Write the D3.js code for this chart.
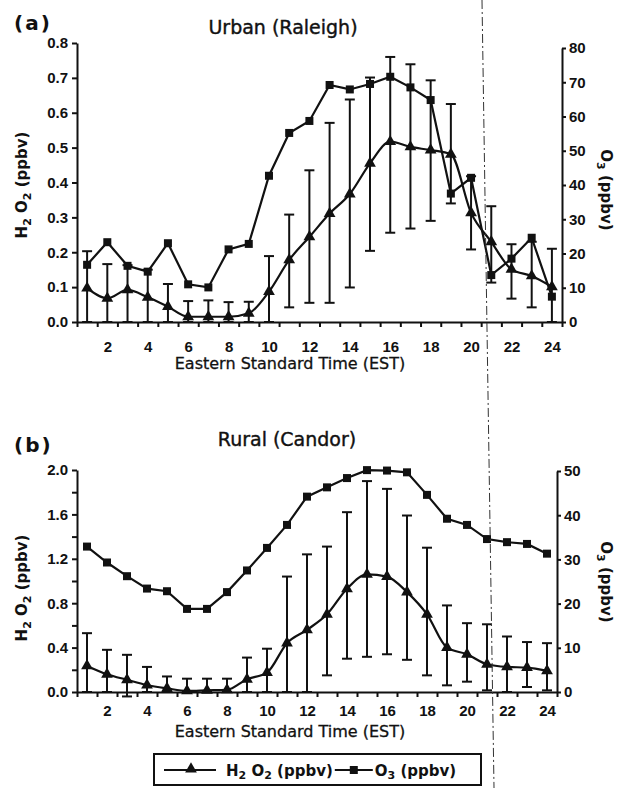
<!DOCTYPE html>
<html lang="en">
<head>
    <meta charset="UTF-8">
    <title>H2O2 and O3 diurnal profiles</title>
    <script src="https://d3js.org/d3.v7.min.js"></script>
    <style>
        body { margin: 0; background: #fff; }
        svg { display: block; font-family: "DejaVu Sans", sans-serif; }
        .axis path, .axis line { stroke: #111; stroke-width: 2; }
        .axis text { font-size: 15px; font-weight: bold; fill: #111; }
        .lbl { font-size: 15px; font-weight: bold; fill: #111; }
    </style>
</head>
<body>
<svg width="618" height="788"></svg>
<script>
    // hours of the day (EST)
    const hours = [1,2,3,4,5,6,7,8,9,10,11,12,13,14,15,16,17,18,19,20,21,22,23,24];
    const xTickLabels = [2,4,6,8,10,12,14,16,18,20,22,24];

    // (a) Urban (Raleigh)
    const urbanO3   = [16.7,23.3,16.4,14.7,23.0,11.0,10.1,21.2,22.8,42.7,55.2,58.7,69.2,67.9,69.5,71.6,68.5,64.8,37.5,42.1,13.7,18.5,24.6,7.4];
    const urbanH2O2 = [0.097,0.068,0.092,0.071,0.044,0.015,0.015,0.015,0.025,0.087,0.178,0.244,0.311,0.367,0.455,0.517,0.502,0.493,0.481,0.313,0.230,0.151,0.132,0.101];
    const urbanHi   = [0.203,0.166,0.163,0.150,0.109,0.060,0.062,0.057,0.058,0.189,0.308,0.435,0.571,0.638,0.701,0.760,0.739,0.693,0.625,0.418,0.332,0.223,0.230,0.210];
    const urbanLo   = [0,0,0,0,0,0,0,0,0,0,0.042,0.055,0.055,0.099,0.204,0.256,0.268,0.290,0.340,0.208,0.113,0.067,0.042,0];

    // (b) Rural (Candor)
    const ruralO3   = [32.9,29.3,26.2,23.4,22.8,18.8,18.8,22.6,27.5,32.6,37.8,44.2,46.3,48.4,50.2,50.1,49.7,44.6,39.2,37.8,34.6,33.9,33.5,31.3];
    const ruralH2O2 = [0.235,0.160,0.110,0.063,0.033,0.010,0.015,0.020,0.115,0.175,0.440,0.560,0.700,0.930,1.060,1.040,0.900,0.700,0.400,0.340,0.250,0.226,0.220,0.190];
    const ruralHi   = [0.53,0.38,0.335,0.226,0.14,0.12,0.12,0.12,0.31,0.39,1.04,1.24,1.31,1.62,1.90,1.83,1.59,1.30,0.78,0.62,0.61,0.50,0.45,0.44];
    const ruralLo   = [0,0,-0.04,0,0,0,0,0,0,0,0,0,0.15,0.30,0.317,0.34,0.29,0.15,0.06,0.093,0.015,0,0.045,0.015];

    const svg = d3.select("svg");

    // H2O2 / O3 label with subscripts
    function chem(sel, parts, sub) {
        parts.forEach(p => {
            if (p.sub) sel.append("tspan").attr("dy", sub).style("font-size", "11px").text(p.t);
            else sel.append("tspan").attr("dy", p.back ? -sub : 0).text(p.t);
        });
        return sel;
    }
    const h2o2Parts = [{t: "H"}, {t: "2", sub: true}, {t: " O", back: true}, {t: "2", sub: true}, {t: " (ppbv)", back: true}];
    const o3Parts = [{t: "O"}, {t: "3", sub: true}, {t: " (ppbv)", back: true}];

    function panel(cfg) {
        const g = svg.append("g");
        const x = d3.scaleLinear().domain([0.5, 24.5]).range([77, cfg.right]);
        const yL = d3.scaleLinear().domain([0, cfg.leftMax]).range([cfg.base, cfg.leftTop]);
        const yR = d3.scaleLinear().domain([0, cfg.rightMax]).range([cfg.base, cfg.rightTop]);

        // x axis: ticks at half hours, labels at even hours
        const halfTicks = d3.range(0.5, 25, 1);
        g.append("g").attr("class", "axis")
            .attr("transform", `translate(0,${cfg.base})`)
            .call(d3.axisBottom(x).tickValues(halfTicks).tickSize(5).tickSizeOuter(0).tickFormat(""));
        g.append("g").attr("class", "axis")
            .attr("transform", `translate(0,${cfg.base})`)
            .call(d3.axisBottom(x).tickValues(xTickLabels).tickSize(0).tickPadding(cfg.xPad))
            .call(a => a.select(".domain").remove());

        // left axis
        g.append("g").attr("class", "axis")
            .attr("transform", "translate(77,0)")
            .call(d3.axisLeft(yL).tickValues(cfg.leftMinor).tickSize(5).tickSizeOuter(0).tickFormat(""));
        g.append("g").attr("class", "axis")
            .attr("transform", "translate(77,0)")
            .call(d3.axisLeft(yL).tickValues(cfg.leftTicks).tickSize(5).tickPadding(4).tickFormat(d3.format(".1f")))
            .call(a => a.select(".domain").remove());

        // right axis
        g.append("g").attr("class", "axis")
            .attr("transform", `translate(${cfg.right},0)`)
            .call(d3.axisRight(yR).ticks(cfg.rightMax / 10).tickSize(4).tickSizeOuter(0).tickPadding(3));

        // error bars
        const bars = g.append("g").attr("stroke", "#111").attr("stroke-width", 2);
        hours.forEach((h, i) => {
            const cx = x(h);
            bars.append("line").attr("x1", cx).attr("x2", cx)
                .attr("y1", yL(cfg.hi[i])).attr("y2", yL(cfg.lo[i]));
            [cfg.hi[i], cfg.lo[i]].forEach(v => {
                bars.append("line").attr("x1", cx - 5).attr("x2", cx + 5)
                    .attr("y1", yL(v)).attr("y2", yL(v));
            });
        });

        // O3 line + squares
        g.append("path")
            .attr("fill", "none").attr("stroke", "#111").attr("stroke-width", 2.2)
            .attr("d", d3.line().x((d, i) => x(hours[i])).y(d => yR(d))(cfg.o3));
        g.selectAll(".sq").data(cfg.o3).enter().append("rect")
            .attr("x", (d, i) => x(hours[i]) - 4).attr("y", d => yR(d) - 4)
            .attr("width", 8).attr("height", 8).attr("fill", "#111");

        // H2O2 line + triangles
        g.append("path")
            .attr("fill", "none").attr("stroke", "#111").attr("stroke-width", 2.2)
            .attr("d", d3.line().curve(d3.curveMonotoneX).x((d, i) => x(hours[i])).y(d => yL(d))(cfg.h2o2));
        g.selectAll(".tri").data(cfg.h2o2).enter().append("path")
            .attr("transform", (d, i) => `translate(${x(hours[i])},${yL(d)})`)
            .attr("d", d3.symbol().type(d3.symbolTriangle).size(60))
            .attr("fill", "#111");

        // labels
        svg.append("text").attr("class", "lbl").attr("x", 14).attr("y", cfg.tagY)
            .style("font-size", "20px").style("letter-spacing", "2px").text(cfg.tag);
        svg.append("text").attr("x", cfg.titleX).attr("y", cfg.titleY).attr("text-anchor", "middle")
            .style("font-size", "19px").attr("fill", "#111").attr("stroke", "#111").attr("stroke-width", 0.4)
            .text(cfg.title);
        svg.append("text").attr("x", 290).attr("y", cfg.base + cfg.xTitle).attr("text-anchor", "middle")
            .style("font-size", "16px").attr("fill", "#111").attr("stroke", "#111").attr("stroke-width", 0.3)
            .text("Eastern Standard Time (EST)");

        chem(svg.append("text").attr("class", "lbl")
            .attr("transform", `translate(27,${cfg.leftLabY}) rotate(-90)`).attr("text-anchor", "middle"),
            h2o2Parts, 4);
        chem(svg.append("text").attr("class", "lbl")
            .attr("transform", `translate(601,${cfg.rightLabY}) rotate(90)`).attr("text-anchor", "middle"),
            o3Parts, 4);
    }

    panel({
        tag: "(a)", tagY: 30, title: "Urban (Raleigh)", titleX: 283, titleY: 34,
        base: 322, right: 562, leftMax: 0.8, leftTop: 43, rightMax: 80, rightTop: 48,
        leftTicks: d3.range(0, 0.81, 0.1), leftMinor: [],
        xPad: 19, xTitle: 47, leftLabY: 185, rightLabY: 190,
        o3: urbanO3, h2o2: urbanH2O2, hi: urbanHi, lo: urbanLo
    });

    panel({
        tag: "(b)", tagY: 452, title: "Rural (Candor)", titleX: 287, titleY: 446,
        base: 692, right: 557, leftMax: 2.0, leftTop: 470, rightMax: 50, rightTop: 471,
        leftTicks: [0, 0.4, 0.8, 1.2, 1.6, 2.0], leftMinor: [0.2, 0.6, 1.0, 1.4, 1.8],
        xPad: 13, xTitle: 45, leftLabY: 588, rightLabY: 582,
        o3: ruralO3, h2o2: ruralH2O2, hi: ruralHi, lo: ruralLo
    });

    // scanner dash-dot line
    svg.append("line").attr("x1", 482).attr("y1", 0).attr("x2", 494).attr("y2", 788)
        .attr("stroke", "#333").attr("stroke-width", 1).attr("stroke-dasharray", "9,3,2,3");

    // legend, laid out from the measured text widths
    const lg = svg.append("g");
    const box = lg.append("rect").attr("x", 154).attr("y", 754).attr("height", 31)
        .attr("fill", "#fff").attr("stroke", "#111").attr("stroke-width", 2);
    lg.append("line").attr("x1", 164).attr("x2", 216).attr("y1", 770).attr("y2", 770)
        .attr("stroke", "#111").attr("stroke-width", 2);
    lg.append("path").attr("transform", "translate(191,769)")
        .attr("d", d3.symbol().type(d3.symbolTriangle).size(60)).attr("fill", "#111");
    const t1 = chem(lg.append("text").attr("class", "lbl").attr("x", 226).attr("y", 776), h2o2Parts, 3);
    const e1 = 226 + t1.node().getComputedTextLength();
    lg.append("line").attr("x1", e1 + 2).attr("x2", e1 + 40).attr("y1", 770).attr("y2", 770)
        .attr("stroke", "#111").attr("stroke-width", 2);
    lg.append("rect").attr("x", e1 + 17).attr("y", 766).attr("width", 8).attr("height", 8).attr("fill", "#111");
    const t2 = chem(lg.append("text").attr("class", "lbl").attr("x", e1 + 42).attr("y", 776), o3Parts, 3);
    const e2 = e1 + 42 + t2.node().getComputedTextLength();
    box.attr("width", Math.max(e2 + 7, 481) - 154);
</script>
</body>
</html>
